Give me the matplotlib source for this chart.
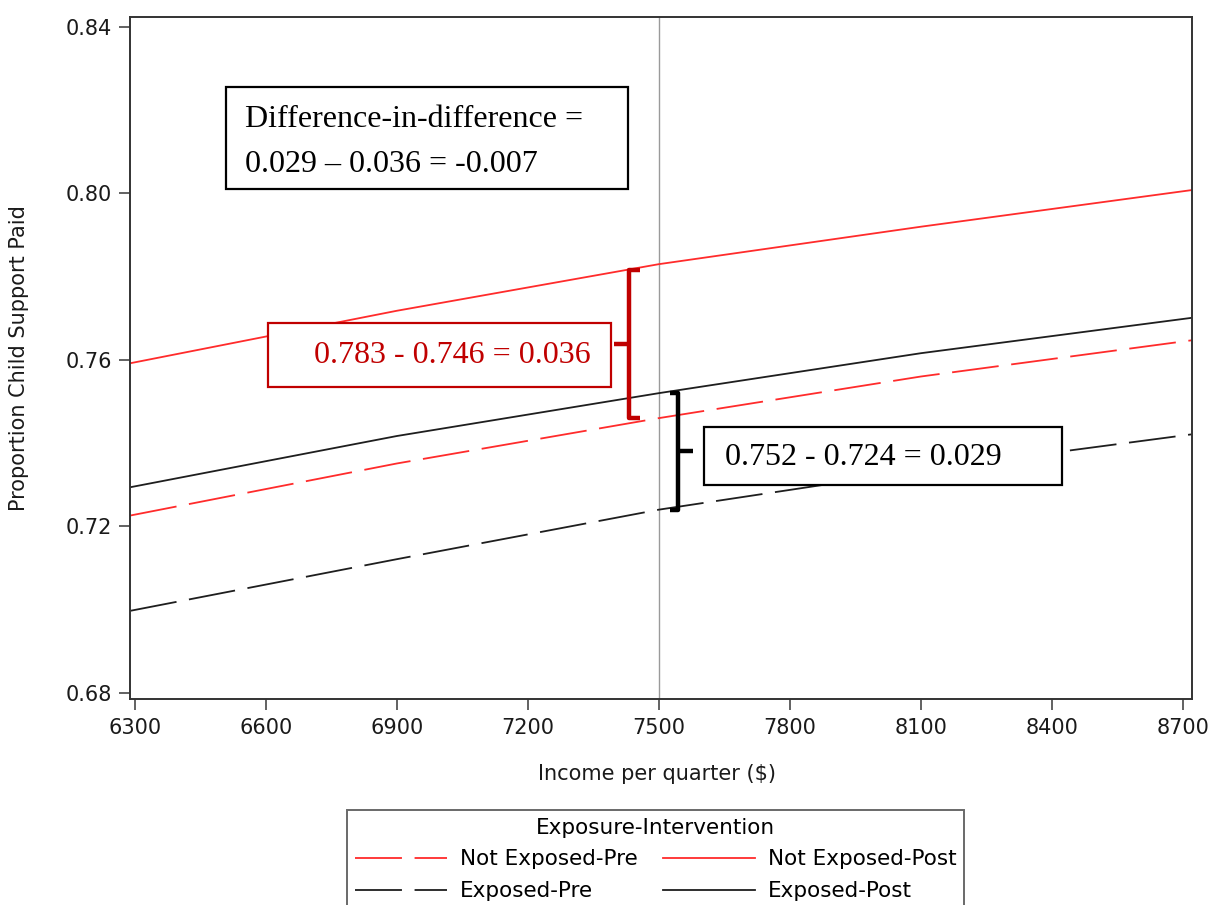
import numpy as np
import matplotlib.pyplot as plt
from matplotlib.patches import Rectangle

# predicted proportion of child support paid, by income per quarter
income = [6290, 6900, 7500, 8100, 8720]
not_exposed_pre = [0.7226, 0.7351, 0.7460, 0.7560, 0.7647]
not_exposed_post = [0.7592, 0.7718, 0.7830, 0.7920, 0.8008]
exposed_pre = [0.6997, 0.7121, 0.7240, 0.7335, 0.7421]
exposed_post = [0.7294, 0.7417, 0.7520, 0.7616, 0.7701]

ref_income = 7500
not_exp_diff = (0.783, 0.746, 0.036)
exp_diff = (0.752, 0.724, 0.029)
did = -0.007

xticks = [6300, 6600, 6900, 7200, 7500, 7800, 8100, 8400, 8700]
yticks = [0.68, 0.72, 0.76, 0.80, 0.84]

RED = '#ff2b2b'
DARK = '#1e1e1e'
BRACE_RED = '#c00000'

fig = plt.figure(figsize=(12.11, 9.05), dpi=100)
ax = fig.add_axes([130/1211, 1-699/905, 1062/1211, 682/905])

dash = (26, 7)
ax.plot(income, not_exposed_pre, color=RED, lw=1.3, dashes=dash, label='Not Exposed-Pre')
ax.plot(income, exposed_pre, color=DARK, lw=1.3, dashes=dash, label='Exposed-Pre')
ax.plot(income, not_exposed_post, color=RED, lw=1.3, label='Not Exposed-Post')
ax.plot(income, exposed_post, color=DARK, lw=1.3, label='Exposed-Post')
ax.axvline(ref_income, color='#9a9a9a', lw=1.0, zorder=1)

ax.set_xlim(6289, 8721)
ax.set_ylim(0.6785, 0.8424)
ax.set_xticks(xticks)
ax.set_yticks(yticks)
ax.set_yticklabels([f'{v:.2f}' for v in yticks])
ax.tick_params(axis='both', direction='out', length=8, width=1.3, colors='#555555',
               labelcolor='#1a1a1a', labelsize=15)
ax.tick_params(axis='x', pad=6)
ax.tick_params(axis='y', pad=5)
for sp in ax.spines.values():
    sp.set_color('#333333')
    sp.set_linewidth(1.4)

ax.set_xlabel('Income per quarter ($)', fontsize=15, color='#1a1a1a')
ax.xaxis.set_label_coords(0.496, -0.095)
ax.set_ylabel('Proportion Child Support Paid', fontsize=15, color='#1a1a1a')
ax.yaxis.set_label_coords(-0.095, 0.5)


def brace(x, top, bottom, serif, nub, color):
    # square bracket with a centre nub; serif/nub signs set the facing side
    mid = (top + bottom) / 2
    ax.plot([x + serif, x, x, x + serif], [top, top, bottom, bottom],
            color=color, lw=3.2, solid_joinstyle='round', solid_capstyle='butt', zorder=4)
    ax.plot([x, x + nub], [mid, mid], color=color, lw=3.2, solid_capstyle='butt', zorder=4)


brace(7432, not_exp_diff[0] - 0.0015, not_exp_diff[1], 25, -34, BRACE_RED)
brace(7544, exp_diff[0], exp_diff[1], -18, 34, 'black')

serif = 'Liberation Serif'
tr = ax.transAxes
fs = 23

# difference-in-difference summary box
ax.add_patch(Rectangle((0.0904, 0.7478), 0.3785, 0.1496, transform=tr,
                       facecolor='white', edgecolor='black', lw=1.6, zorder=5))
ax.text(0.1083, 0.8387, 'Difference-in-difference =', transform=tr, family=serif,
        fontsize=fs, va='baseline', ha='left', zorder=6)
ax.text(0.1083, 0.7727, f'{exp_diff[2]:.3f} \u2013 {not_exp_diff[2]:.3f} = {did:.3f}',
        transform=tr, family=serif, fontsize=fs, va='baseline', ha='left', zorder=6)

# not exposed difference
ax.add_patch(Rectangle((0.1299, 0.4575), 0.3230, 0.0938, transform=tr,
                       facecolor='white', edgecolor=BRACE_RED, lw=1.6, zorder=5))
ax.text(0.1733, 0.4922, f'{not_exp_diff[0]:.3f} - {not_exp_diff[1]:.3f} = {not_exp_diff[2]:.3f}',
        transform=tr, family=serif, fontsize=fs, color=BRACE_RED,
        va='baseline', ha='left', zorder=6)

# exposed difference
ax.add_patch(Rectangle((0.5405, 0.3138), 0.3371, 0.0850, transform=tr,
                       facecolor='white', edgecolor='black', lw=1.6, zorder=5))
ax.text(0.5602, 0.3431, f'{exp_diff[0]:.3f} - {exp_diff[1]:.3f} = {exp_diff[2]:.3f}',
        transform=tr, family=serif, fontsize=fs, va='baseline', ha='left', zorder=6)

handles, labels = ax.get_legend_handles_labels()
leg = fig.legend(handles, labels, ncol=2, loc='upper left',
                 bbox_to_anchor=(347/1211, 1-810/905), borderaxespad=0,
                 title='Exposure-Intervention', fontsize=15.5, title_fontsize=15.5,
                 frameon=True, fancybox=False, handlelength=4.3, handletextpad=0.6,
                 columnspacing=1.15, borderpad=0.35, labelspacing=0.55)
leg.get_frame().set_edgecolor('#444444')
leg.get_frame().set_linewidth(1.4)

fig.savefig('out.png', dpi=100)
